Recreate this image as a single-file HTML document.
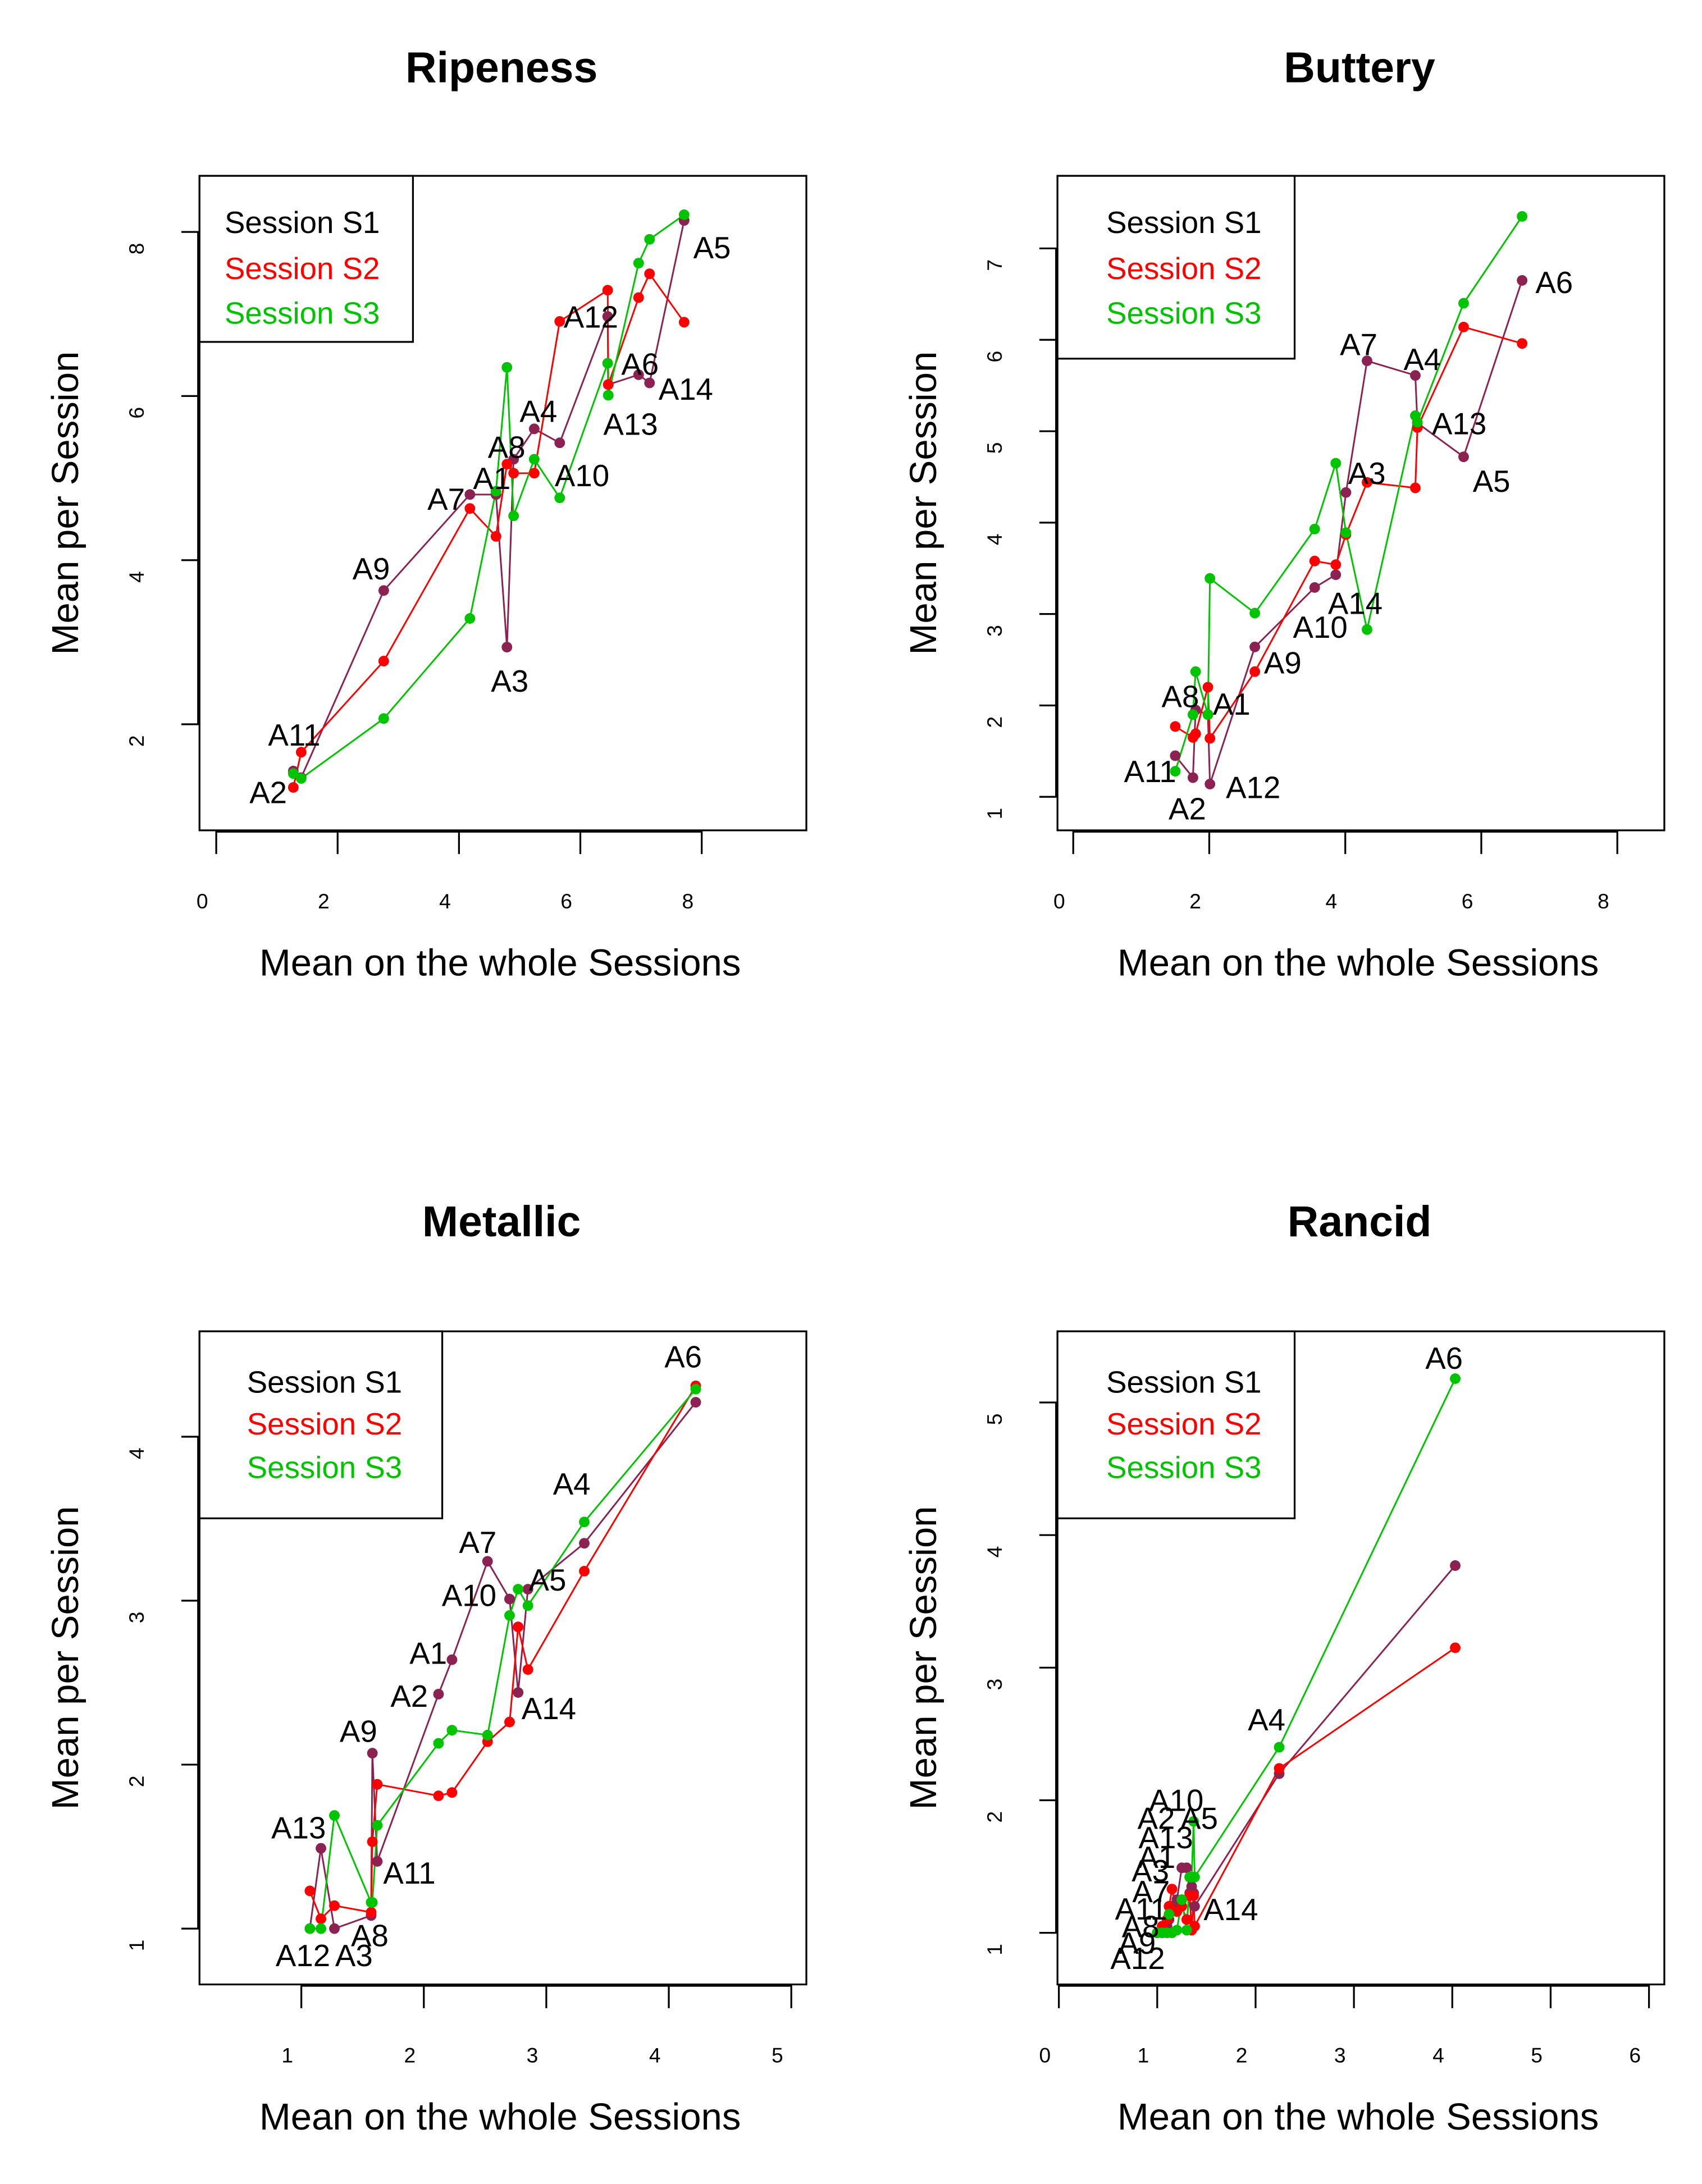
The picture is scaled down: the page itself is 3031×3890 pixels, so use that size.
<!DOCTYPE html>
<html><head><meta charset="utf-8"><style>
html,body{margin:0;padding:0;background:#fff;}
svg{display:block;font-family:"Liberation Sans",Arial,sans-serif;}
</style></head><body>
<svg id="chart" width="3031" height="3890" viewBox="0 0 1220 1565" preserveAspectRatio="none" xmlns="http://www.w3.org/2000/svg"></svg>
<script>
// ---- Ripeness ----
const ripeLabels=["A2","A11","A9","A7","A1","A3","A8","A4","A10","A12","A13","A6","A14","A5"];
const ripeX=[1.27,1.4,2.76,4.18,4.61,4.79,4.9,5.24,5.66,6.45,6.46,6.96,7.14,7.71];
const ripeS1=[1.43,1.35,3.63,4.8,4.8,2.94,5.23,5.6,5.43,6.97,6.14,6.26,6.16,8.14];
const ripeS2=[1.23,1.66,2.77,4.63,4.29,5.17,5.06,5.06,6.91,7.29,6.14,7.2,7.49,6.9];
const ripeS3=[1.4,1.34,2.07,3.29,4.84,6.35,4.54,5.23,4.76,6.4,6.01,7.62,7.91,8.21];
const ripeXTicks=[0,2,4,6,8];
const ripeYTicks=[2,4,6,8];
// ---- Buttery ----
const butLabels=["A11","A2","A8","A1","A12","A9","A10","A14","A3","A7","A4","A13","A5","A6"];
const butX=[1.5,1.76,1.8,1.98,2.01,2.67,3.55,3.86,4.01,4.32,5.03,5.06,5.74,6.6];
const butS1=[1.45,1.21,1.95,1.9,1.14,2.64,3.29,3.43,4.33,5.77,5.61,5.09,4.72,6.65];
const butS2=[1.77,1.65,1.69,2.2,1.64,2.37,3.58,3.54,3.87,4.44,4.38,5.04,6.14,5.96];
const butS3=[1.28,1.9,2.37,1.9,3.39,3.01,3.93,4.65,3.89,2.83,5.17,5.1,6.4,7.35];
const butXTicks=[0,2,4,6,8];
const butYTicks=[1,2,3,4,5,6,7];
// ---- Metallic ----
const metLabels=["A12","A13","A3","A8","A9","A11","A2","A1","A7","A10","A14","A5","A4","A6"];
const metX=[1.07,1.16,1.27,1.57,1.58,1.62,2.12,2.23,2.52,2.7,2.77,2.85,3.31,4.22];
const metS1=[1.0,1.49,1.0,1.08,2.07,1.41,2.43,2.64,3.24,3.01,2.44,3.07,3.35,4.21];
const metS2=[1.23,1.06,1.14,1.1,1.53,1.88,1.81,1.83,2.14,2.26,2.84,2.58,3.18,4.31];
const metS3=[1.0,1.0,1.69,1.16,1.16,1.63,2.13,2.21,2.18,2.91,3.07,2.97,3.48,4.29];
const metXTicks=[1,2,3,4,5];
const metYTicks=[1,2,3,4];
// ---- Rancid ----
const ranLabels=["A12","A9","A8","A11","A7","A3","A1","A13","A2","A10","A5","A14","A4","A6"];
const ranX=[1.0,1.05,1.1,1.12,1.15,1.2,1.25,1.3,1.33,1.35,1.37,1.38,2.24,4.03];
const ranS1=[1.0,1.0,1.05,1.1,1.2,1.25,1.49,1.49,1.3,1.35,1.3,1.2,2.2,3.77];
const ranS2=[1.0,1.05,1.1,1.2,1.33,1.16,1.2,1.1,1.28,1.02,1.28,1.05,2.24,3.15];
const ranS3=[1.0,1.0,1.0,1.14,1.0,1.02,1.25,1.02,1.42,1.42,1.84,1.42,2.4,5.18];
const ranXTicks=[0,1,2,3,4,5,6];
const ranYTicks=[1,2,3,4,5];

const NS="http://www.w3.org/2000/svg";
const svg=document.getElementById('chart');
const COLORS=["#8b2252","#ff0000","#00c400"];
function mk(tag,attrs,parent){const e=document.createElementNS(NS,tag);for(const k in attrs)e.setAttribute(k,attrs[k]);(parent||svg).appendChild(e);return e;}

function drawPanel(cfg,labels,xs,s1,s2,s3,offs,xt,yt){
  const g=mk('g',{});
  
  
  const sx=v=>cfg.x0+(v-cfg.xv0)*cfg.xk;
  const sy=v=>cfg.y0-(v-cfg.yv0)*cfg.yk;
  const b=cfg.box;
  const t=mk('text',{x:(b[0]+b[2])/2-1,y:cfg.titleY,'text-anchor':'middle','font-size':31,'font-weight':'bold'},g);
  t.textContent=cfg.title;
  
  
  const box=mk('rect',{x:b[0],y:b[1],width:b[2]-b[0],height:b[3]-b[1],fill:'none',stroke:'#000','stroke-width':1.3},g);
  
  
  const xa=mk('g',{},g);
  
  
  mk('line',{x1:sx(xt[0]),x2:sx(xt[xt.length-1]),y1:b[3]+1,y2:b[3]+1,stroke:'#000','stroke-width':1.3},xa);
  xt.forEach(v=>{
    mk('line',{x1:sx(v),x2:sx(v),y1:b[3],y2:b[3]+17,stroke:'#000','stroke-width':1.3},xa);
    const tl=mk('text',{x:sx(v)-10,y:b[3]+56,'text-anchor':'middle','font-size':15},xa);
    tl.textContent=v;
    
    
  });
  const ya=mk('g',{},g);
  
  
  mk('line',{x1:b[0]-1,x2:b[0]-1,y1:sy(yt[0]),y2:sy(yt[yt.length-1]),stroke:'#000','stroke-width':1.3},ya);
  yt.forEach(v=>{
    mk('line',{x1:b[0]-13,x2:b[0],y1:sy(v),y2:sy(v),stroke:'#000','stroke-width':1.3},ya);
    const X=b[0]-40,Y=sy(v)+12;
    const tl=mk('text',{x:X,y:Y,'text-anchor':'middle','font-size':15,transform:`rotate(-90 ${X} ${Y})`},ya);
    tl.textContent=v;
    
    
  });
  const xt2=mk('text',{x:(b[0]+b[2])/2-2,y:b[3]+104,'text-anchor':'middle','font-size':27},g);
  xt2.textContent='Mean on the whole Sessions';
  
  
  const YX=b[0]-87,YY=(b[1]+b[3])/2;
  const yt2=mk('text',{x:YX,y:YY,'text-anchor':'middle','font-size':27,transform:`rotate(-90 ${YX} ${YY})`},g);
  yt2.textContent='Mean per Session';
  
  
  const idx=xs.map((v,i)=>i).sort((a,c)=>xs[a]-xs[c]);
  [s1,s2,s3].forEach((s,k)=>{
    const pts=idx.map(i=>sx(xs[i]).toFixed(1)+','+sy(s[i]).toFixed(1)).join(' ');
    const pl=mk('polyline',{points:pts,fill:'none',stroke:COLORS[k],'stroke-width':1.2},g);
    
    
  });
  [s1,s2,s3].forEach((s,k)=>{
    xs.forEach((v,i)=>{
      const c=mk('circle',{cx:sx(v),cy:sy(s[i]),r:3.8,fill:COLORS[k]},g);
      
      
    });
  });
  labels.forEach((l,i)=>{
    const o=offs[i];
    const tl=mk('text',{x:sx(xs[i])+o[0],y:sy(s1[i])+o[1]+8,'text-anchor':'middle','font-size':22},g);
    tl.textContent=l;
    
    
  });
  const L=cfg.legend;
  const lg=mk('g',{},g);
  
  
  mk('rect',{x:L[0],y:L[1],width:L[2]-L[0],height:L[3]-L[1],fill:'#fff',stroke:'#000','stroke-width':1.3},lg);
  ['Session  S1','Session  S2','Session  S3'].forEach((s,k)=>{
    const tl=mk('text',{x:L[4],y:L[5][k]+8,'font-size':22,fill:k==0?'#000':COLORS[k],'xml:space':'preserve'},lg);
    tl.textContent=s;
    
    
  });
}

drawPanel({name:'ripeness',title:'Ripeness',titleY:59,box:[143,126,578,595],x0:155,xv0:0,xk:43.5,y0:519,yv0:2,yk:58.8,legend:[143,126,296,245,161,[159,192,224]]},
  ripeLabels,ripeX,ripeS1,ripeS2,ripeS3,
  [[-18,15],[-5,-31],[-9,-16],[-17,3],[-3,-12],[2,24],[-5,-9],[3,-13],[16,23],[-12,0],[16,28],[1,-8],[26,4],[20,19]],ripeXTicks,ripeYTicks);
drawPanel({name:'buttery',title:'Buttery',titleY:59,box:[758,126,1193,595],x0:769.3,xv0:0,xk:48.75,y0:178,yv0:7,yk:65.5,legend:[758,126,928,257,793,[159,192,224]]},
  butLabels,butX,butS1,butS2,butS3,
  [[-18,11],[-4,22],[-11,-10],[17,-8],[31,2],[20,11],[4,28],[14,20],[15,-14],[-6,-12],[5,-12],[30,0],[20,17],[23,1]],butXTicks,butYTicks);
drawPanel({name:'metallic',title:'Metallic',titleY:886,box:[143,954,578,1422],x0:216,xv0:1,xk:87.8,y0:1382,yv0:1,yk:117.5,legend:[143,954,317,1088,177,[990,1020,1051]]},
  metLabels,metX,metS1,metS2,metS3,
  [[-5,19],[-16,-15],[14,19],[-1,14],[-10,-16],[23,8],[-21,1],[-17,-5],[-7,-14],[-29,-3],[22,11],[14,-7],[-9,-43],[-9,-33]],metXTicks,metYTicks);
drawPanel({name:'rancid',title:'Rancid',titleY:886,box:[758,954,1193,1422],x0:759,xv0:0,xk:70.5,y0:1385,yv0:1,yk:95,legend:[758,954,928,1088,793,[990,1020,1051]]},
  ranLabels,ranX,ranS1,ranS2,ranS3,
  [[-14,18],[-18,7],[-19,0],[-20,-8],[-15,-11],[-19,-21],[-18,-8],[-15,-22],[-24,-54],[-11,-62],[4,-54],[26,2],[-9,-39],[-8,-149]],ranXTicks,ranYTicks);
</script>
</body></html>
